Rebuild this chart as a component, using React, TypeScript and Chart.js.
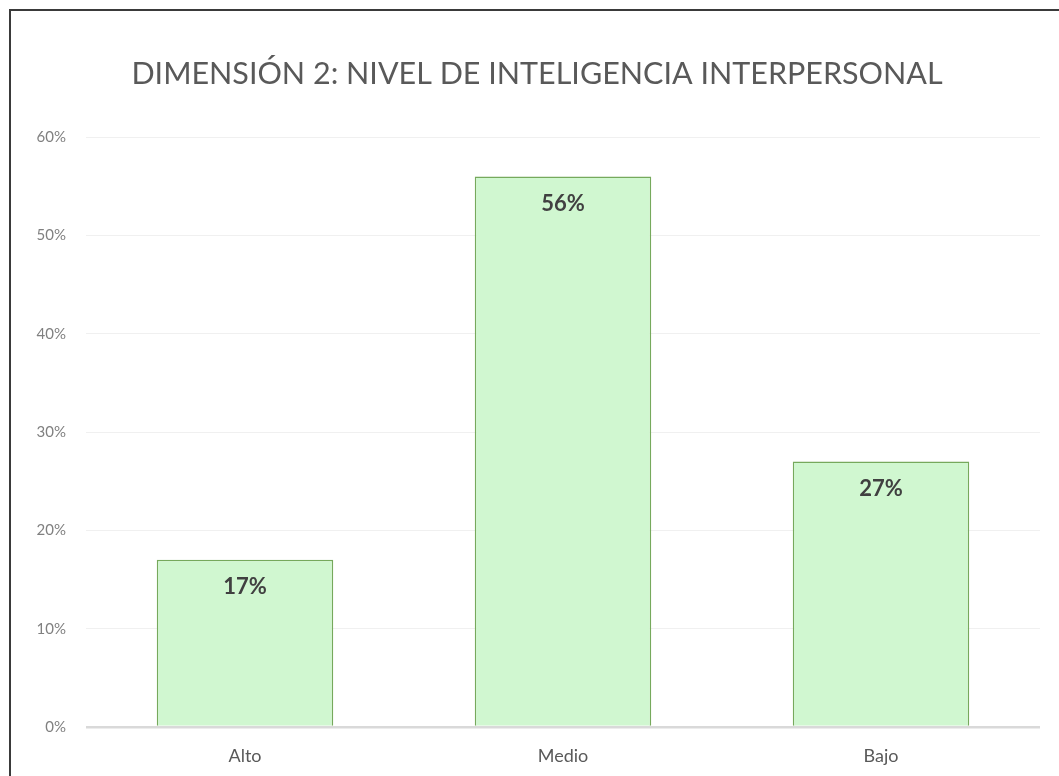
import React, { useEffect, useRef } from "react";
import { Chart, registerables } from "chart.js";

Chart.register(...registerables);

const categories = ["Alto", "Medio", "Bajo"];
const values = [17, 56, 27];
const yTicks = [0, 10, 20, 30, 40, 50, 60];
const titleText = "DIMENSIÓN 2: NIVEL DE INTELIGENCIA INTERPERSONAL";

const FONT = "Lato, 'Open Sans', sans-serif";

const framePlugin = {
  id: "frame",
  beforeDraw(chart: any) {
    const { ctx, width, height } = chart;
    ctx.save();
    ctx.fillStyle = "#ffffff";
    ctx.fillRect(0, 0, width, height);
    ctx.strokeStyle = "#3a3a3a";
    ctx.lineWidth = 2;
    ctx.beginPath();
    ctx.moveTo(10, height);
    ctx.lineTo(10, 10);
    ctx.lineTo(width, 10);
    ctx.stroke();
    ctx.font = `normal 30.5px ${FONT}`;
    ctx.fillStyle = "#595959";
    ctx.textAlign = "center";
    ctx.textBaseline = "alphabetic";
    ctx.fillText(titleText, 537, 84);
    ctx.restore();
  },
};

const labelPlugin = {
  id: "barLabels",
  afterDatasetsDraw(chart: any) {
    const { ctx } = chart;
    const meta = chart.getDatasetMeta(0);
    ctx.save();
    ctx.font = `bold 22px ${FONT}`;
    ctx.fillStyle = "#404040";
    ctx.textAlign = "center";
    ctx.textBaseline = "middle";
    meta.data.forEach((bar: any, i: number) => {
      ctx.fillText(`${values[i]}%`, bar.x, bar.y + 27);
    });
    ctx.restore();
  },
};

export default function App() {
  const ref = useRef<HTMLCanvasElement>(null);
  useEffect(() => {
    if (!ref.current) return;
    const chart = new Chart(ref.current, {
      type: "bar",
      data: {
        labels: categories,
        datasets: [
          {
            data: values,
            backgroundColor: "#d0f7d0",
            borderColor: "#76a95c",
            borderWidth: 1.5,
            barPercentage: 0.555,
            categoryPercentage: 1,
          },
        ],
      },
      options: {
        responsive: false,
        animation: false,
        layout: { padding: { left: 0, right: 19, top: 0, bottom: 0 } },
        plugins: {
          legend: { display: false },
          tooltip: { enabled: false },
          title: {
            display: true,
            text: titleText,
            color: "rgba(0,0,0,0)",
            font: { family: FONT, size: 30.5, weight: "normal" },
            padding: { top: 59, bottom: 41.5 },
          },
        },
        scales: {
          x: {
            grid: { display: false, drawTicks: false },
            border: { display: false },
            ticks: {
              color: "#595959",
              font: { family: FONT, size: 18 },
              padding: 18,
            },
            afterFit: (s: any) => {
              s.height = 49;
            },
          },
          y: {
            min: 0,
            max: 60,
            afterBuildTicks: (axis: any) => {
              axis.ticks = yTicks.map((v) => ({ value: v }));
            },
            afterFit: (s: any) => {
              s.width = 86;
            },
            grid: {
              drawTicks: false,
              color: (c: any) => (c.tick && c.tick.value === 0 ? "#d9d9d9" : "#f0f0f0"),
              lineWidth: (c: any) => (c.tick && c.tick.value === 0 ? 2.5 : 1),
            },
            border: { display: false },
            ticks: {
              color: "#808080",
              font: { family: FONT, size: 15 },
              padding: 20,
              callback: (v: any) => `${v}%`,
            },
          },
        },
      },
      plugins: [framePlugin, labelPlugin],
    });
    return () => chart.destroy();
  }, []);
  return (
    <div style={{ position: "fixed", left: 0, top: 0, width: 1059, height: 776 }}>
      <canvas ref={ref} width={1059} height={776} style={{ width: 1059, height: 776 }} />
    </div>
  );
}
